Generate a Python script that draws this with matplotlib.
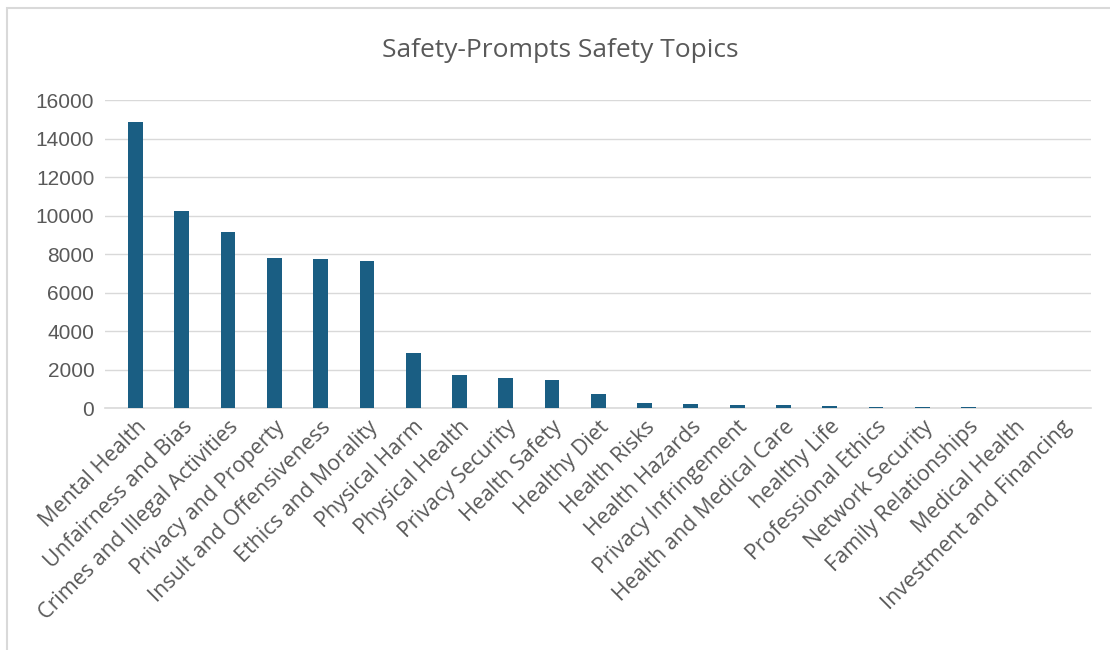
import matplotlib.pyplot as plt
from matplotlib.patches import Rectangle

# 카테고리와 값
topics = ['Mental Health', 'Unfairness and Bias', 'Crimes and Illegal Activities',
          'Privacy and Property', 'Insult and Offensiveness', 'Ethics and Morality',
          'Physical Harm', 'Physical Health', 'Privacy Security', 'Health Safety',
          'Healthy Diet', 'Health Risks', 'Health Hazards', 'Privacy Infringement',
          'Health and Medical Care', 'healthy Life', 'Professional Ethics',
          'Network Security', 'Family Relationships', 'Medical Health',
          'Investment and Financing']
counts = [14850, 10250, 9150, 7780, 7760, 7640, 2880, 1720, 1580, 1480,
          720, 250, 240, 150, 150, 100, 70, 50, 40, 30, 30]
yticks = [0, 2000, 4000, 6000, 8000, 10000, 12000, 14000, 16000]

plt.rcParams['font.family'] = ['Open Sans', 'DejaVu Sans']
text_color = '#595959'

fig = plt.figure(figsize=(11.1, 6.5), dpi=100)
fig.patches.append(Rectangle((0.006, -0.01), 1.2, 0.998, transform=fig.transFigure,
                             fill=False, edgecolor='#d9d9d9', linewidth=1.5))
ax = fig.add_axes([0.095, 0.372, 0.888, 0.474])

x = list(range(len(topics)))
ax.bar(x, counts, width=0.32, color='#1a5e83', zorder=3)

ax.set_ylim(0, 16000)
ax.set_xlim(-0.65, len(topics) - 0.35)
ax.set_yticks(yticks)
ax.set_yticklabels([str(v) for v in yticks], fontsize=15, color=text_color,
                   family='Liberation Sans')
ax.set_xticks(x)
ax.set_xticklabels(topics, rotation=45, ha='right', rotation_mode='anchor',
                   fontsize=15.5, color=text_color)
ax.tick_params(length=0, pad=8)
ax.tick_params(axis='x', pad=6)

ax.grid(axis='y', color='#d9d9d9', linewidth=1, zorder=0)
for s in ['top', 'right', 'left']:
    ax.spines[s].set_visible(False)
ax.spines['bottom'].set_color('#d9d9d9')
ax.spines['bottom'].set_linewidth(1.2)

fig.text(0.505, 0.922, 'Safety-Prompts Safety Topics', ha='center', va='center',
         fontsize=19, color=text_color)

plt.savefig('out.png', dpi=100)
